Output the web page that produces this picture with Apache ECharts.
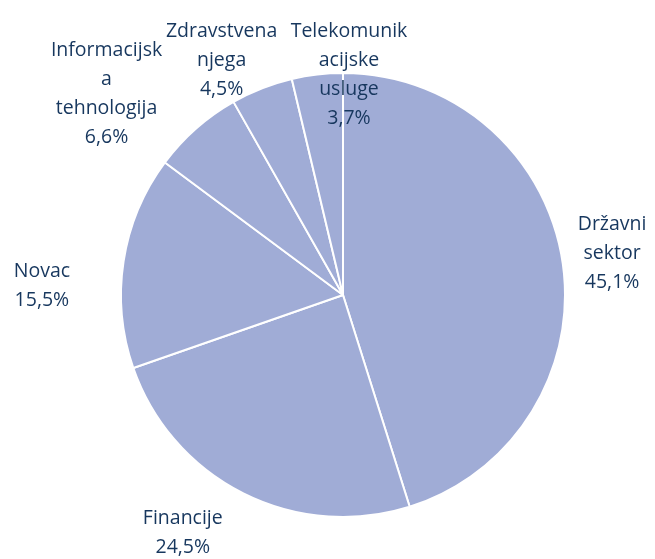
<!DOCTYPE html>
<html>
<head>
<meta charset="utf-8">
<script src="https://cdn.jsdelivr.net/npm/echarts@6/dist/echarts.min.js"></script>
<style>
  html, body { margin: 0; padding: 0; background: #fff; }
  #main { width: 655px; height: 559px; }
</style>
</head>
<body>
<div id="main"></div>
<script>
// sectors, clockwise from 12 o'clock
var names = ['Državni\nsektor', 'Financije', 'Novac', 'Informacijsk\na\ntehnologija', 'Zdravstvena\nnjega', 'Telekomunik\nacijske\nusluge'];
var shares = [45.1, 24.5, 15.5, 6.6, 4.5, 3.7];

// labels sit on a ring at the slice's middle angle, then get nudged (px)
var labelRing = 250;
var labelShift = [[22, -4], [-48, 15], [-54, 29], [-71, -14], [-30, -2], [35, 28]];

var cx = 343, cy = 295;

var myChart = echarts.init(document.getElementById('main'));

var total = shares.reduce(function (a, b) { return a + b; }, 0);
var midAngles = [];
var acc = 0;
shares.forEach(function (v) {
    midAngles.push((acc + v / 2) / total * 2 * Math.PI);
    acc += v;
});

var data = names.map(function (n, i) {
    return { name: n, value: shares[i] };
});

var option = {
    animation: false,
    series: [{
        type: 'pie',
        center: [cx, cy],
        radius: 222,
        startAngle: 90,
        clockwise: true,
        data: data,
        itemStyle: {
            color: '#A0ACD6',
            borderColor: '#fff',
            borderWidth: 2
        },
        label: {
            show: true,
            position: 'outside',
            color: '#17375E',
            fontFamily: 'Open Sans',
            fontSize: 19.5,
            lineHeight: 29,
            align: 'center',
            overflow: 'none',
            formatter: function (p) {
                return p.name + '\n' + p.value.toFixed(1).replace('.', ',') + '%';
            }
        },
        labelLine: { show: false },
        labelLayout: function (p) {
            var i = p.dataIndex;
            var a = midAngles[i];
            return {
                x: cx + labelRing * Math.sin(a) + labelShift[i][0],
                y: cy - labelRing * Math.cos(a) + labelShift[i][1],
                align: 'center',
                verticalAlign: 'middle',
                hideOverlap: false,
                moveOverlap: null
            };
        }
    }]
};

myChart.setOption(option);
</script>
</body>
</html>
